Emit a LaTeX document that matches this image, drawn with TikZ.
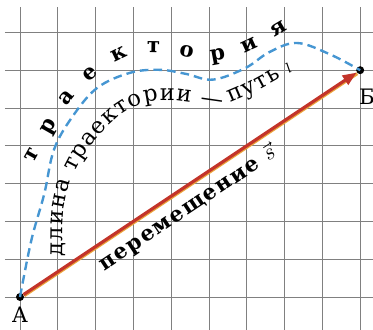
\documentclass[tikz,border=0pt]{standalone}
\usepackage{fontspec}
\setmainfont{DejaVu Serif}
\usetikzlibrary{arrows.meta,decorations.text}

\definecolor{gridgray}{RGB}{128,128,128}
\definecolor{trajblue}{RGB}{70,150,210}
\definecolor{moveRed}{RGB}{195,52,42}
\definecolor{moveEdge}{RGB}{235,165,60}

\tikzset{
  gridline/.style={gridgray, line width=0.6pt},
  trajectory/.style={trajblue, line width=1.8pt, dash pattern=on 6.5pt off 3.8pt},
  displacement/.style={moveRed, line width=2.4pt, -{Triangle[length=10.5pt,width=8pt]},
    preaction={draw=moveEdge, -, line width=2.4pt, transform canvas={shift={(0.5pt,-0.8pt)}}}},
  dot/.style={circle, fill=black, inner sep=0pt, minimum size=6pt},
  pointlabel/.style={font=\fontsize{16}{18}\selectfont, inner sep=0pt},
}

\begin{document}
\begin{tikzpicture}
    \useasboundingbox (-0.529,-0.847) rectangle (9.339,7.857);
    % grid
    \foreach \x in {0,...,9}
        \draw[gridline] (\x,-0.9) -- (\x,7.68);
    \foreach \y in {0,...,7}
        \draw[gridline] (-0.4,\y) -- (9.4,\y);

    \node[dot] (A) at (0,0) {};
    \node[dot] (B) at (9,6) {};
    \node[pointlabel] (labA) at (0,-0.48) {А};
    \node[pointlabel] (labB) at (9.18,5.29) {Б};

    % trajectory
    \draw[trajectory] plot[smooth, tension=0.6] coordinates {(A.center) (0.3,1.5) (0.64,2.72) (0.9,3.9) (1.38,4.76) (2.04,5.53) (2.91,5.93) (3.7,6.01) (4.4,5.9) (5.1,5.75) (5.95,6.05) (6.6,6.48) (7.33,6.72) (8.2,6.42) (B.center)};
    \path[decorate, decoration={text along path, text align={fit to path},
        text={|\fontsize{16}{18}\selectfont\bfseries|траектория}}]
        (0.36,3.53) to[out=60,in=-140] (1.94,5.77) to[out=40,in=178] (3.57,6.46)
        to[out=-3,in=180] (5.2,6.25) to[out=10,in=-150] (7.1,7.08);
    \path[decorate, decoration={text along path, text align={fit to path},
        text={|\fontsize{17}{19}\selectfont|длина траектории — путь |\itshape|l}}]
        (1.11,1.08) to[out=88,in=-105] (1.25,2.75) to[out=75,in=-130] (2.08,4.25)
        to[out=50,in=180] (3.89,5.21) to[out=0,in=175] (5.3,5.03) to[out=20,in=-150] (7.22,5.98);

    % displacement
    \draw[displacement] (A) -- (B)
        node[pos=0.46, sloped, below=0.33cm, inner sep=0pt, text height=0.3cm, text=black,
             font=\fontsize{16}{18}\selectfont\bfseries\addfontfeatures{LetterSpace=8}] (move) {перемещение $\vec{s}$};
\end{tikzpicture}
\end{document}
